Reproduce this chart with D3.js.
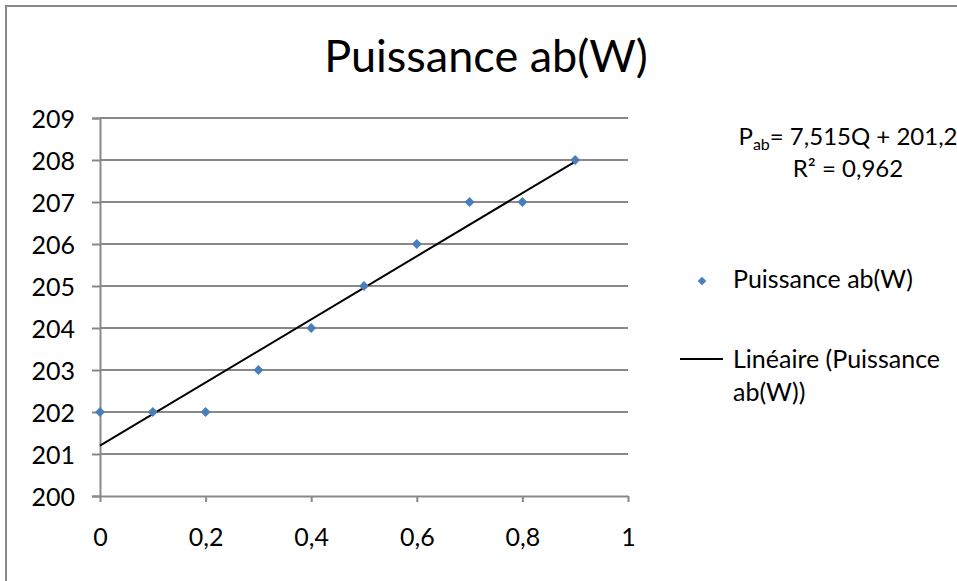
<!DOCTYPE html>
<html><head><meta charset="utf-8">
<script src="https://cdn.jsdelivr.net/npm/d3@7"></script>
<style>
html,body{margin:0;padding:0;background:#fff;}
svg{display:block;font-family:Lato, "Open Sans", sans-serif;}
</style></head>
<body>
<svg id="chart" width="957" height="581"></svg>
<script>
// Data
const qValues = [0, 0.1, 0.2, 0.3, 0.4, 0.5, 0.6, 0.7, 0.8, 0.9];
const pValues = [202, 202, 202, 203, 204, 205, 206, 207, 207, 208];
const xTicks = [0, 0.2, 0.4, 0.6, 0.8, 1];
const yTicks = [200, 201, 202, 203, 204, 205, 206, 207, 208, 209];
const trendSlope = 7.515, trendIntercept = 201.2;
const titleText = "Puissance ab(W)";
const seriesName = "Puissance ab(W)";
const trendName = ["Linéaire (Puissance", "ab(W))"];
const r2Text = "R² = 0,962";

const svg = d3.select("#chart");
const grey = "#898989";
const blue = "#4a7ebb";

// outer border (left and top visible)
svg.append("line").attr("x1",6).attr("x2",6).attr("y1",6).attr("y2",581).attr("stroke",grey).attr("stroke-width",2);
svg.append("line").attr("x1",5).attr("x2",957).attr("y1",6).attr("y2",6).attr("stroke",grey).attr("stroke-width",2);

const x = d3.scaleLinear().domain([0,1]).range([100,628]);
const y = d3.scaleLinear().domain([200,209]).range([496,118]);
const fmt = d => String(d).replace(".", ",");

// title
svg.append("text").attr("x",486).attr("y",72).attr("text-anchor","middle")
  .attr("font-size",45).attr("fill","#000").text(titleText);

// gridlines
svg.append("g").selectAll("line").data(yTicks.filter(d=>d!==200)).join("line")
  .attr("x1",x(0)).attr("x2",x(1)).attr("y1",d=>y(d)).attr("y2",d=>y(d))
  .attr("stroke",grey).attr("stroke-width",2);

// y axis
const yAxis = svg.append("g").attr("transform",`translate(${x(0)},0)`)
  .call(d3.axisLeft(y).tickValues(yTicks).tickFormat(d=>d).tickSize(8).tickPadding(17));
yAxis.select(".domain").attr("stroke",grey).attr("stroke-width",2);
yAxis.selectAll(".tick line").attr("stroke",grey).attr("stroke-width",2);
yAxis.selectAll("text").attr("font-size",25).attr("font-family","Lato").attr("fill","#000").attr("dy","0.36em");

// x axis
const xAxis = svg.append("g").attr("transform",`translate(0,${y(200)})`)
  .call(d3.axisBottom(x).tickValues(xTicks).tickFormat(fmt).tickSize(6).tickSizeOuter(0).tickPadding(26));
xAxis.select(".domain").attr("stroke",grey).attr("stroke-width",2);
xAxis.selectAll(".tick line").attr("stroke",grey).attr("stroke-width",2);
xAxis.selectAll("text").attr("font-size",25).attr("font-family","Lato").attr("fill","#000");

// trendline
svg.append("line")
  .attr("x1",x(qValues[0])).attr("y1",y(trendSlope*qValues[0]+trendIntercept))
  .attr("x2",x(qValues[qValues.length-1])).attr("y2",y(trendSlope*qValues[qValues.length-1]+trendIntercept))
  .attr("stroke","#000").attr("stroke-width",2);

// points
const diamond = d3.symbol().type(d3.symbolDiamond2).size(62);
svg.append("g").selectAll("path").data(qValues.map((q,i)=>[q,pValues[i]])).join("path")
  .attr("d",diamond).attr("transform",d=>`translate(${x(d[0])},${y(d[1])})`).attr("fill",blue);

// equation
const eq = svg.append("text").attr("x",848).attr("y",145).attr("text-anchor","middle")
  .attr("font-size",24).attr("fill","#000");
eq.append("tspan").text("P");
eq.append("tspan").attr("font-size",16).attr("dy",5).text("ab");
eq.append("tspan").attr("dy",-5).text("= 7,515Q + 201,2");
svg.append("text").attr("x",848).attr("y",177).attr("text-anchor","middle")
  .attr("font-size",24).attr("fill","#000").text(r2Text);

// legend
svg.append("path").attr("d",d3.symbol().type(d3.symbolDiamond2).size(48))
  .attr("transform","translate(702,281)").attr("fill",blue);
svg.append("text").attr("x",733).attr("y",288).attr("font-size",25).attr("fill","#000").text(seriesName);
svg.append("line").attr("x1",680).attr("x2",723).attr("y1",359).attr("y2",359).attr("stroke","#000").attr("stroke-width",2);
svg.append("text").attr("x",733).attr("y",368).attr("font-size",25).attr("fill","#000").text(trendName[0]);
svg.append("text").attr("x",733).attr("y",401).attr("font-size",25).attr("fill","#000").text(trendName[1]);
</script>
</body></html>
